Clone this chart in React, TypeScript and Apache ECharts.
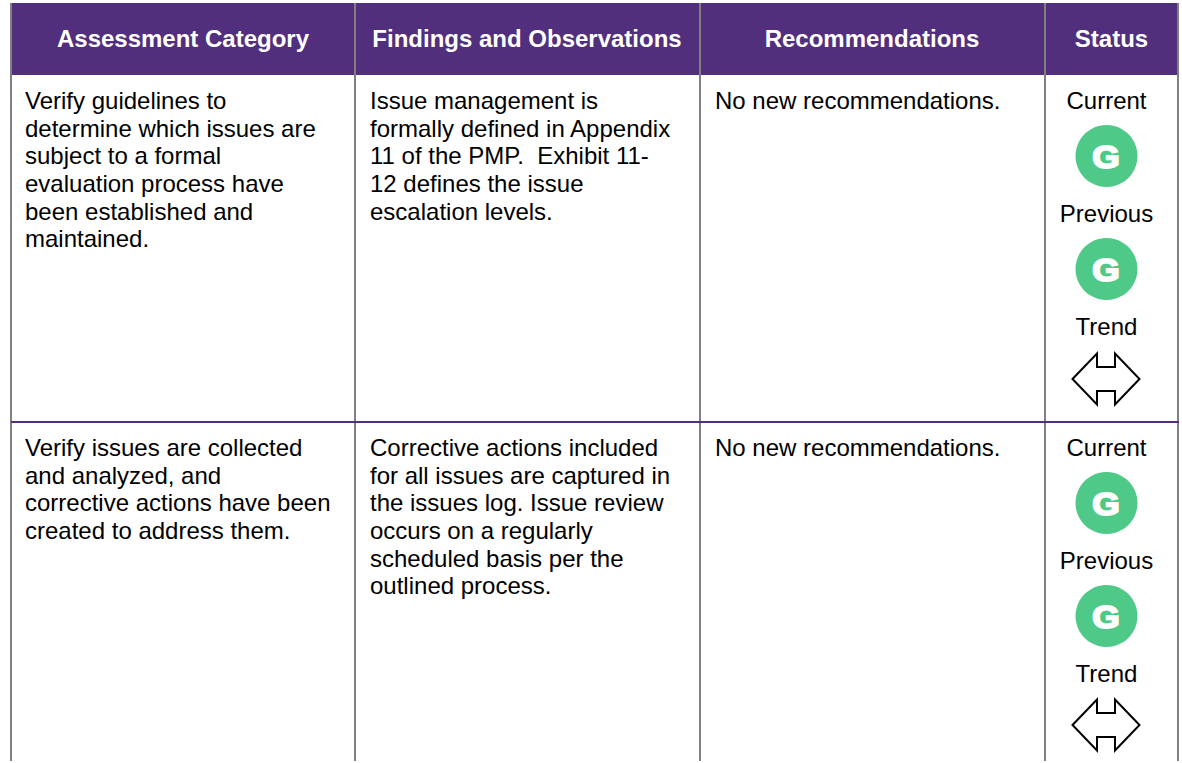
import React, { useEffect, useRef } from "react";
import * as echarts from "echarts";

const headers = ["Assessment Category", "Findings and Observations", "Recommendations", "Status"];
const row1 = [
  ["Verify guidelines to", "determine which issues are", "subject to a formal", "evaluation process have", "been established and", "maintained."],
  ["Issue management is", "formally defined in Appendix", "11 of the PMP.  Exhibit 11-", "12 defines the issue", "escalation levels."],
  ["No new recommendations."],
];
const row2 = [
  ["Verify issues are collected", "and analyzed, and", "corrective actions have been", "created to address them."],
  ["Corrective actions included", "for all issues are captured in", "the issues log. Issue review", "occurs on a regularly", "scheduled basis per the", "outlined process."],
  ["No new recommendations."],
];
const statusLabels = ["Current", "Previous", "Trend"];
const statusGrades = ["G", "G"];

const FONT = "'Liberation Sans', Arial, sans-serif";
const colX = [11, 355, 700, 1045, 1178];
const textX = [25, 370, 715];
const headerCx = [183, 527, 872, 1111.5];
const rowTop = [100, 447];
const rowOffset = 0.35;
const LH = 27.7;

function buildGraphics() {
  const els: any[] = [];
  els.push({ type: "rect", shape: { x: 11, y: 3, width: 1167, height: 72 }, style: { fill: "#512F7D" } });
  colX.forEach((x) => {
    els.push({ type: "line", shape: { x1: x, y1: 3, x2: x, y2: 761 }, style: { stroke: "#808080", lineWidth: 2 } });
  });
  els.push({ type: "line", shape: { x1: 11, y1: 422, x2: 1179, y2: 422 }, style: { stroke: "#512F7D", lineWidth: 2 } });
  headers.forEach((h, i) => {
    els.push({
      type: "text", x: headerCx[i], y: 38,
      style: { text: h, fill: "#ffffff", font: `bold 24px ${FONT}`, textAlign: "center", textVerticalAlign: "middle" },
    });
  });
  [row1, row2].forEach((row, r) => {
    row.forEach((lines, c) => {
      lines.forEach((line, l) => {
        els.push({
          type: "text", x: textX[c], y: rowTop[r] + rowOffset + l * LH,
          style: { text: line, fill: "#000000", font: `24px ${FONT}`, textAlign: "left", textVerticalAlign: "middle" },
        });
      });
    });
    const off = rowTop[r] - 100;
    statusLabels.forEach((s, i) => {
      els.push({
        type: "text", x: 1106.5, y: 100 + off + i * 113,
        style: { text: s, fill: "#000000", font: `24px ${FONT}`, textAlign: "center", textVerticalAlign: "middle" },
      });
    });
    statusGrades.forEach((g, i) => {
      const cy = 156 + off + i * 113;
      els.push({ type: "circle", shape: { cx: 1106.5, cy, r: 31 }, style: { fill: "#4FC987" } });
      els.push({
        type: "text", x: 1106, y: cy + 1, scaleX: 1.1,
        style: { text: g, fill: "#ffffff", stroke: "#ffffff", lineWidth: 2, font: `900 32px ${FONT}`, textAlign: "center", textVerticalAlign: "middle" },
      });
    });
    const d = off === 0 ? 0 : 346;
    els.push({
      type: "polygon",
      shape: {
        points: [
          [1072.5, 379 + d], [1097, 353.5 + d], [1097, 367 + d], [1115, 367 + d], [1115, 353.5 + d],
          [1139.5, 379 + d], [1115, 404.5 + d], [1115, 391 + d], [1097, 391 + d], [1097, 404.5 + d],
        ],
      },
      style: { fill: "#ffffff", stroke: "#000000", lineWidth: 2 },
    });
  });
  return els;
}

export default function App() {
  const ref = useRef<HTMLDivElement>(null);
  useEffect(() => {
    document.body.style.margin = "0";
    document.body.style.background = "#ffffff";
    const chart = echarts.init(ref.current!, null, { renderer: "svg" });
    chart.setOption({ animation: false, backgroundColor: "#ffffff", graphic: { elements: buildGraphics() } });
    return () => chart.dispose();
  }, []);
  return <div ref={ref} style={{ width: 1182, height: 763 }} />;
}
